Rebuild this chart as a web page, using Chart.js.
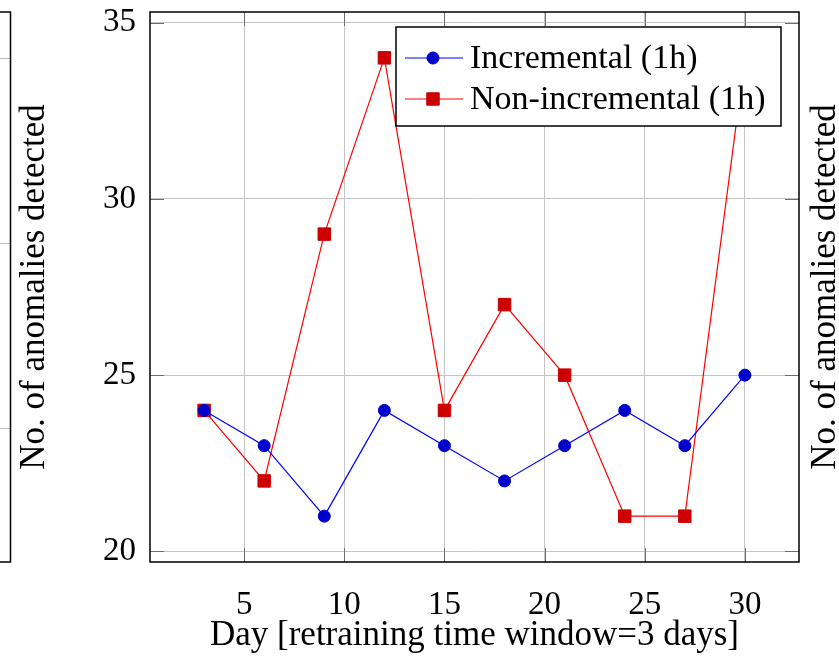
<!DOCTYPE html>
<html>
<head>
<meta charset="utf-8">
<script src="https://cdn.jsdelivr.net/npm/chart.js@4/dist/chart.umd.min.js"></script>
<style>
  html, body { margin: 0; padding: 0; background: #fff; }
  #wrap { width: 839px; height: 657px; }
</style>
</head>
<body>
<div id="wrap"><canvas id="myChart" width="839" height="657"></canvas></div>
<script>
// data
const days = [3, 6, 9, 12, 15, 18, 21, 24, 27, 30];
const incremental = [24, 23, 21, 24, 23, 22, 23, 24, 23, 25];
const nonIncremental = [24, 22, 29, 34, 24, 27, 25, 21, 21, 34];
const xTicks = [5, 10, 15, 20, 25, 30];
const yTicks = [20, 25, 30, 35];
const seriesNames = ['Incremental (1h)', 'Non-incremental (1h)'];
const xTitle = 'Day [retraining time window=3 days]';
const yTitle = 'No. of anomalies detected';

const serif = '"Liberation Serif", "Times New Roman", serif';

function toPoints(ys) {
  return days.map((d, i) => ({ x: d, y: ys[i] }));
}

// frame, inner tick marks, legend box and the bits of the neighbour plots
const framePlugin = {
  id: 'frame',
  afterDatasetsDraw(chart) {
    const ctx = chart.ctx;
    const a = chart.chartArea;
    const xs = chart.scales.x;
    const ys = chart.scales.y;

    ctx.save();
    // small ticks pointing inwards on all four sides
    ctx.strokeStyle = '#6e6e6e';
    ctx.lineWidth = 1;
    const tl = 14;
    xTicks.forEach(v => {
      const px = Math.round(xs.getPixelForValue(v)) + 0.5;
      ctx.beginPath();
      ctx.moveTo(px, a.bottom); ctx.lineTo(px, a.bottom - tl);
      ctx.moveTo(px, a.top); ctx.lineTo(px, a.top + tl);
      ctx.stroke();
    });
    yTicks.forEach(v => {
      const py = Math.round(ys.getPixelForValue(v)) + 0.5;
      ctx.beginPath();
      ctx.moveTo(a.left, py); ctx.lineTo(a.left + tl, py);
      ctx.moveTo(a.right, py); ctx.lineTo(a.right - tl, py);
      ctx.stroke();
    });

    // legend
    const bx = a.left + 246, by = a.top + 15, bw = 385, bh = 99;
    ctx.fillStyle = '#fff';
    ctx.fillRect(bx, by, bw, bh);
    ctx.strokeStyle = '#000';
    ctx.lineWidth = 1.5;
    ctx.strokeRect(bx, by, bw, bh);
    chart.data.datasets.forEach((ds, i) => {
      const cy = by + 31 + i * 41;
      ctx.strokeStyle = ds.borderColor;
      ctx.lineWidth = ds.borderWidth;
      ctx.beginPath();
      ctx.moveTo(bx + 9, cy); ctx.lineTo(bx + 67, cy);
      ctx.stroke();
      ctx.fillStyle = ds.pointBackgroundColor;
      ctx.strokeStyle = ds.pointBorderColor;
      ctx.lineWidth = ds.pointBorderWidth;
      ctx.beginPath();
      if (ds.pointStyle === 'rect') {
        const s = ds.pointRadius * Math.SQRT1_2;
        ctx.rect(bx + 37 - s, cy - s, 2 * s, 2 * s);
      } else {
        ctx.arc(bx + 37, cy, ds.pointRadius, 0, Math.PI * 2);
      }
      ctx.fill();
      ctx.stroke();
      ctx.fillStyle = '#000';
      ctx.font = '34px ' + serif;
      ctx.textBaseline = 'middle';
      ctx.textAlign = 'left';
      ctx.fillText(ds.label, bx + 74, cy + 1);
    });

    // axis frame
    ctx.strokeStyle = '#000';
    ctx.lineWidth = 1.5;
    ctx.strokeRect(a.left, a.top, a.right - a.left, a.bottom - a.top);

    // right edge of the plot on the left
    ctx.strokeStyle = '#bdbdbd';
    ctx.lineWidth = 1;
    [58, 243, 428].forEach(py => {
      ctx.beginPath();
      ctx.moveTo(0, py + 0.5); ctx.lineTo(10, py + 0.5);
      ctx.stroke();
    });
    ctx.strokeStyle = '#000';
    ctx.lineWidth = 1.5;
    ctx.beginPath();
    ctx.moveTo(0, a.top); ctx.lineTo(10.5, a.top);
    ctx.lineTo(10.5, a.bottom); ctx.lineTo(0, a.bottom);
    ctx.stroke();

    // y title of the plot on the right
    ctx.fillStyle = '#000';
    ctx.font = '35px ' + serif;
    ctx.textAlign = 'center';
    ctx.textBaseline = 'middle';
    ctx.translate(826, (a.top + a.bottom) / 2);
    ctx.rotate(-Math.PI / 2);
    ctx.fillText(yTitle, 0, 0);
    ctx.restore();
  }
};

var ctx = document.getElementById('myChart').getContext('2d');
var chart = new Chart(ctx, {
  type: 'line',
  data: {
    datasets: [{
      label: seriesNames[0],
      data: toPoints(incremental),
      borderColor: '#0000ff',
      borderWidth: 1.2,
      pointStyle: 'circle',
      pointRadius: 6,
      pointBorderWidth: 1,
      pointBackgroundColor: '#0000cc',
      pointBorderColor: '#0000cc',
      tension: 0
    }, {
      label: seriesNames[1],
      data: toPoints(nonIncremental),
      borderColor: '#ff0000',
      borderWidth: 1.2,
      pointStyle: 'rect',
      pointRadius: 8.8,
      pointBorderWidth: 1,
      pointBackgroundColor: '#cc0000',
      pointBorderColor: '#cc0000',
      tension: 0
    }]
  },
  options: {
    responsive: false,
    animation: false,
    layout: { padding: { top: 12, right: 40, left: 0, bottom: 0 } },
    plugins: {
      legend: { display: false },
      tooltip: { enabled: false }
    },
    scales: {
      x: {
        type: 'linear',
        min: 0.3,
        max: 32.7,
        afterFit: s => { s.height = 95; s.paddingLeft = 0; s.paddingRight = 0; },
        afterBuildTicks: s => { s.ticks = xTicks.map(v => ({ value: v })); },
        ticks: { font: { family: serif, size: 33 }, color: '#000', padding: 24, maxRotation: 0 },
        grid: { color: '#c4c4c4', lineWidth: 1, drawTicks: false },
        border: { display: false },
        title: {
          display: true, text: xTitle, color: '#000',
          font: { family: serif, size: 35 }, padding: { top: 0, bottom: 0 }
        }
      },
      y: {
        min: 19.7,
        max: 35.3,
        afterFit: s => { s.width = 150; s.paddingTop = 0; s.paddingBottom = 0; },
        afterBuildTicks: s => { s.ticks = yTicks.map(v => ({ value: v })); },
        ticks: { font: { family: serif, size: 33 }, color: '#000', padding: 14 },
        grid: { color: '#c4c4c4', lineWidth: 1, drawTicks: false },
        border: { display: false },
        title: {
          display: true, text: yTitle, color: '#000',
          font: { family: serif, size: 35 }, padding: { top: 14, bottom: 0 }
        }
      }
    }
  },
  plugins: [framePlugin]
});
</script>
</body>
</html>
